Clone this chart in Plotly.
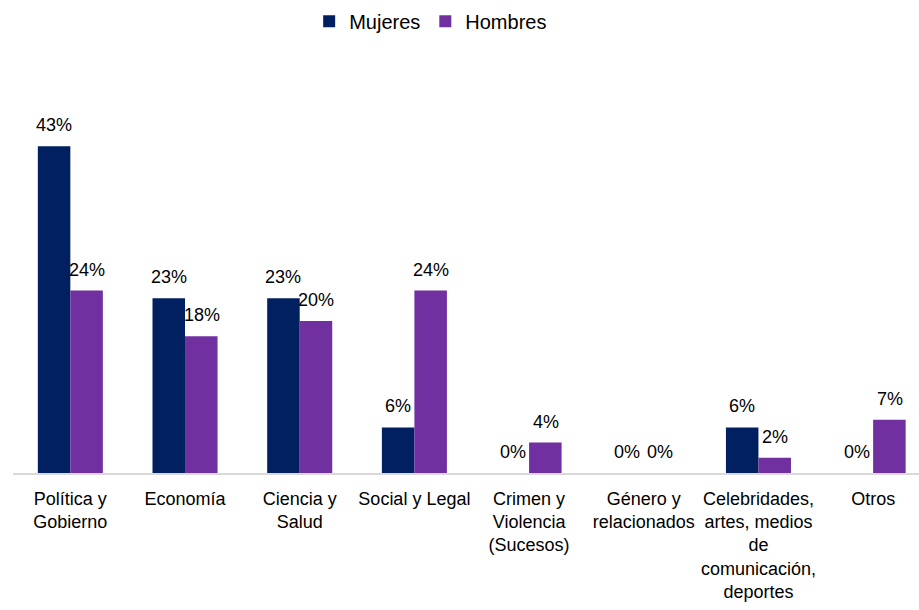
import plotly.graph_objects as go

categorias = [
    "Política y<br>Gobierno",
    "Economía",
    "Ciencia y<br>Salud",
    "Social y Legal",
    "Crimen y<br>Violencia<br>(Sucesos)",
    "Género y<br>relacionados",
    "Celebridades,<br>artes, medios<br>de<br>comunicación,<br>deportes",
    "Otros",
]
mujeres = [43, 23, 23, 6, 0, 0, 6, 0]
hombres = [24, 18, 20, 24, 4, 0, 2, 7]

color_mujeres = "#002060"
color_hombres = "#7030A0"
fuente = "Liberation Sans Narrow, Arial Narrow, Liberation Sans, Arial, sans-serif"

fig = go.Figure()
fig.add_trace(go.Bar(name="Mujeres", x=categorias, y=mujeres,
                     marker=dict(color=color_mujeres, line=dict(width=0))))
fig.add_trace(go.Bar(name="Hombres", x=categorias, y=hombres,
                     marker=dict(color=color_hombres, line=dict(width=0))))

# value labels above each bar
half = 16.5
for cat, m, h in zip(categorias, mujeres, hombres):
    for val, dx in ((m, -half), (h, half)):
        fig.add_annotation(x=cat, y=val, text=f"{val}%", showarrow=False,
                           xshift=dx, yshift=9, yanchor="bottom",
                           font=dict(family=fuente, size=18, color="#000000"))

fig.update_layout(
    width=919, height=610,
    margin=dict(l=13, r=0, t=93, b=137),
    paper_bgcolor="white", plot_bgcolor="white",
    barmode="group", bargap=0.433, bargroupgap=0,
    font=dict(family=fuente, size=18, color="#000000"),
    legend=dict(orientation="h", x=0.461, xanchor="center", y=0.997, yref="container",
                yanchor="top", font=dict(size=20), traceorder="normal"),
    showlegend=True,
)
fig.update_xaxes(showline=True, linecolor="#d9d9d9", linewidth=2, ticks="",
                 tickfont=dict(size=18), ticklabelstandoff=8, showgrid=False,
                 range=[-0.5, 7.4])
fig.update_yaxes(range=[0, 50], visible=False, showgrid=False, zeroline=False)

fig.write_html("out.html")
